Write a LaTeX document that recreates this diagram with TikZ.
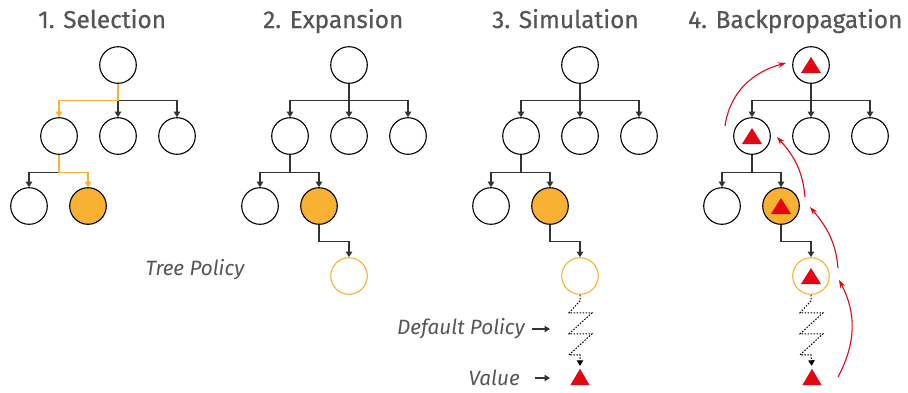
\documentclass[tikz,border=0pt]{standalone}
\usepackage{fontspec}
\setmainfont{Fira Sans}
\newfontfamily\titlefont{Fira Sans}[FakeBold=0.6]
\usetikzlibrary{arrows.meta,calc}
\definecolor{selorange}{HTML}{F8B133}
\definecolor{valred}{HTML}{E30613}
\definecolor{edgegray}{HTML}{333333}
\definecolor{textgray}{HTML}{555555}
\newcommand\triin[1]{\fill[valred] ([shift={(-10pt,-8pt)}]#1.center) -- ([shift={(10pt,-8pt)}]#1.center) -- ([shift={(0pt,8pt)}]#1.center) -- cycle;}
\begin{document}
\begin{tikzpicture}[x=1pt,y=1pt,
  tn/.style={circle,draw=black,line width=1.1pt,minimum size=36.6pt,inner sep=0pt},
  selnode/.style={tn,fill=selorange},
  newnode/.style={tn,draw=selorange},
  edge/.style={draw=edgegray,line width=1.1pt,-{Triangle[width=6.5pt,length=5.5pt]}},
  seledge/.style={edge,draw=selorange},
  zig/.style={draw=black,line width=1pt,dash pattern=on 1.5pt off 1.5pt,-{Triangle[width=6.5pt,length=5.5pt,sep=0pt]},shorten >=3pt},
  back/.style={draw=valred,line width=1.1pt,-{Stealth[length=8pt,width=5.5pt]}},
  title/.style={anchor=base west,inner sep=0pt,text=textgray,font=\titlefont\fontsize{24.4}{28}\selectfont},
  lbl/.style={inner sep=0pt,text=textgray,font=\itshape\fontsize{20.7}{24}\selectfont},
  valtri/.style={inner sep=0pt,minimum width=19pt,minimum height=16pt}
]
\useasboundingbox (0,0) rectangle (908,-392);

% titles
\node[title] (t1) at (38,-28) {1. Selection};
\node[title] (t2) at (263,-28) {2. Expansion};
\node[title] (t3) at (492,-28) {3. Simulation};
\node[title] (t4) at (688,-28) {4. Backpropagation};

% trees
\foreach \p/\R in {1/118,2/349,3/580,4/811}{
  \node[tn] (r\p) at (\R,-65) {};
  \node[tn] (a\p) at (\R-59,-136) {};
  \node[tn] (b\p) at (\R,-136) {};
  \node[tn] (c\p) at (\R+59,-136) {};
  \node[tn] (d\p) at (\R-89,-206) {};
  \node[selnode] (e\p) at (\R-30,-206) {};
}
\foreach \p/\R in {2/349,3/580,4/811}{
  \node[newnode] (f\p) at (\R,-276) {};
}

% panel 1 edges
\draw[edge] (r1.south) -- ([yshift=-16.5pt]r1.south) -| (c1.north);
\draw[edge] ([yshift=-16.5pt]r1.south) -- (b1.north);
\draw[seledge] (r1.south) -- ([yshift=-16.5pt]r1.south) -| (a1.north);
\draw[edge] ([yshift=-17.5pt]a1.south) -| (d1.north);
\draw[seledge] (a1.south) -- ([yshift=-17.5pt]a1.south) -| (e1.north);

% panels 2-4 edges
\foreach \p in {2,3,4}{
  \draw[edge] (r\p.south) -- ([yshift=-16.5pt]r\p.south) -| (a\p.north);
  \draw[edge] ([yshift=-16.5pt]r\p.south) -| (c\p.north);
  \draw[edge] (r\p.south) -- (b\p.north);
  \draw[edge] (a\p.south) -- ([yshift=-17.5pt]a\p.south) -| (d\p.north);
  \draw[edge] ([yshift=-17.5pt]a\p.south) -| (e\p.north);
  \draw[edge] (e\p.south) -- ([yshift=-17pt]e\p.south) -| (f\p.north);
}

% simulation values
\foreach \p/\R in {3/580,4/812}{
  \node[valtri] (v\p) at (\R,-377) {};
  \fill[valred] (v\p.south west) -- (v\p.south east) -- (v\p.north) -- cycle;
  \draw[zig] (f\p.south) -- ++(0,-6) -- ++(-11,-12) -- ++(23,0) -- ++(-23,-21)
     -- ++(23,0) -- ++(-23,-21) -- ++(11,0) -- (v\p.north);
}

% labels
\node[lbl] (tp) at (195,-270) {Tree Policy};
\node[lbl,anchor=east] (dp) at (525,-329) {Default Policy};
\coordinate (dpend) at (550,-329);
\draw[edge] ([xshift=7pt]dp.east) -- (dpend);
\node[lbl,anchor=east] (vl) at (520,-378) {Value};
\coordinate (vlend) at (550,-378);
\draw[edge] ([xshift=15pt]vl.east) -- (vlend);

% backpropagation triangles
\triin{r4}
\triin{a4}
\triin{e4}
\triin{f4}

% backpropagation arcs
\coordinate (s1) at (725,-126); \coordinate (g1) at (786,-63);
\coordinate (s2) at (805,-197); \coordinate (g2) at (777,-137);
\coordinate (s3) at (838,-268); \coordinate (g3) at (810,-207);
\coordinate (s4) at (838,-377); \coordinate (g4) at (839,-280);
\draw[back] (s1) to[out=82,in=195] (g1);
\draw[back] (s2) to[out=95,in=-48] (g2);
\draw[back] (s3) to[out=95,in=-50] (g3);
\draw[back] (s4) to[out=62,in=-62] (g4);
\end{tikzpicture}
\end{document}
